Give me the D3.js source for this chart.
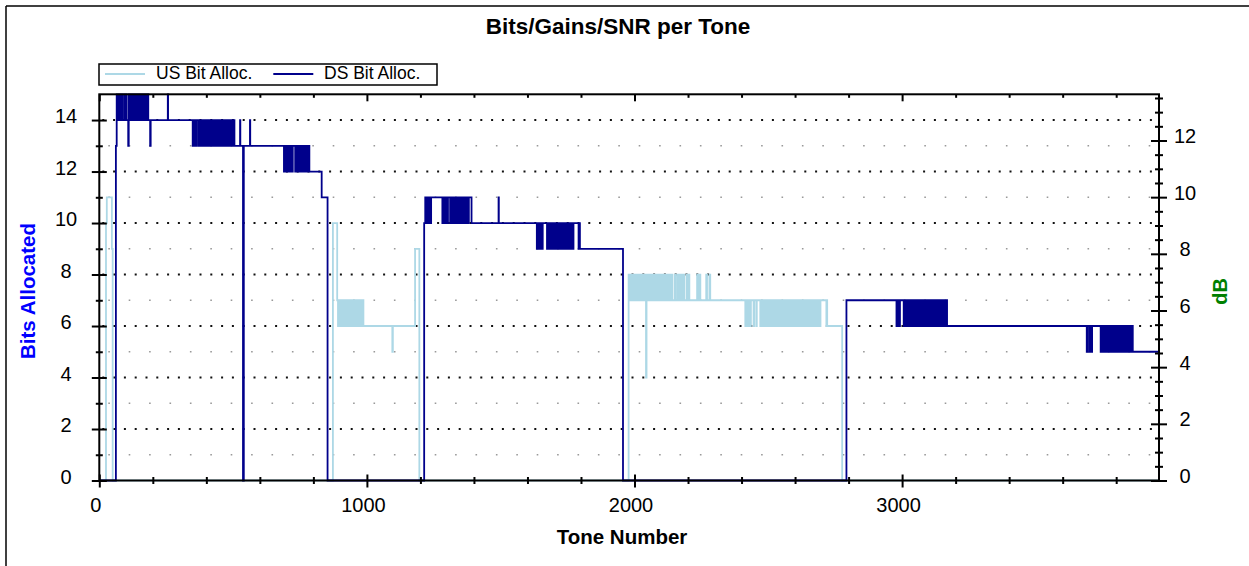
<!DOCTYPE html>
<html><head><meta charset="utf-8">
<script src="https://cdn.jsdelivr.net/npm/d3@7"></script>
<style>body{margin:0;background:#fff}svg{display:block}text{font-family:"Liberation Sans",Arial,sans-serif}</style>
</head><body><svg id="c" width="1249" height="566"></svg>
<script>
const chartTitle = "Bits/Gains/SNR per Tone";
const xLabel = "Tone Number";
const yLeftLabel = "Bits Allocated";
const yRightLabel = "dB";
const seriesNames = ["US Bit Alloc.", "DS Bit Alloc."];
const xMajorTicks = [0, 1000, 2000, 3000];
const yLeftTicks = [0, 2, 4, 6, 8, 10, 12, 14];
const yRightTicks = [0, 2, 4, 6, 8, 10, 12];
const xDomain = [0, 3960];
const yLeftDomain = [0, 15];
const yRightDomain = [0, 13.63];
const lastTone = 3958;

// runs: [start tone, bits] (value holds until next start)
const usRuns = [[0,0],[25,10],[28,11],[47,9],[50,0],
[873,10],[889,7],[892,6],[895,7],[898,6],[901,7],[904,6],[907,7],[910,6],[913,7],[916,6],[919,7],[922,6],[925,7],[928,6],[931,7],[934,6],[937,7],[940,6],[943,7],[946,6],[949,7],[952,6],[955,7],[958,6],[961,7],[964,6],[967,7],[970,6],[973,7],[976,6],[979,7],[982,6],[985,7],[987,6],
[1095,5],[1097,6],[1180,9],[1196,0],
[1978,8],[1983,7],[1986,8],[1989,7],[1992,8],[1995,7],[1998,8],[2001,7],[2004,8],[2007,7],[2010,8],[2013,7],[2016,8],[2019,7],[2022,8],[2025,7],[2028,8],[2031,7],[2034,8],[2037,7],[2040,8],[2043,4],[2045,7],[2048,8],[2051,7],[2054,8],[2057,7],[2060,8],[2063,7],[2066,8],[2069,7],[2072,8],[2075,7],[2078,8],[2081,7],[2084,8],[2087,7],[2090,8],[2093,7],[2096,8],[2099,7],[2102,8],[2105,7],[2108,8],[2111,7],[2114,8],[2117,7],[2120,8],[2123,7],[2126,8],[2129,7],[2132,8],[2135,7],[2138,8],[2141,7],[2150,8],[2153,7],[2160,8],[2162,7],[2168,8],[2171,7],[2175,8],[2178,7],[2183,8],[2186,7],[2195,8],[2197,7],[2203,8],[2205,7],[2234,8],[2237,7],[2243,8],[2246,7],[2268,8],[2271,7],[2280,8],[2283,7],
[2414,6],[2417,7],[2420,6],[2423,7],[2426,6],[2429,7],[2432,6],[2435,7],[2445,6],[2447,7],[2455,6],[2457,7],[2470,6],[2473,7],[2476,6],[2479,7],[2482,6],[2485,7],[2488,6],[2491,7],[2494,6],[2497,7],[2500,6],[2503,7],[2506,6],[2509,7],[2512,6],[2515,7],[2518,6],[2521,7],[2524,6],[2527,7],[2530,6],[2533,7],[2536,6],[2539,7],[2542,6],[2545,7],[2548,6],[2551,7],[2554,6],[2557,7],[2560,6],[2563,7],[2566,6],[2569,7],[2572,6],[2575,7],[2578,6],[2581,7],[2584,6],[2587,7],[2590,6],[2593,7],[2596,6],[2599,7],[2602,6],[2605,7],[2608,6],[2611,7],[2614,6],[2617,7],[2620,6],[2623,7],[2626,6],[2629,7],[2632,6],[2635,7],[2638,6],[2641,7],[2644,6],[2647,7],[2650,6],[2653,7],[2656,6],[2659,7],[2662,6],[2665,7],[2668,6],[2671,7],[2674,6],[2677,7],[2680,6],[2683,7],[2686,6],[2689,7],[2692,6],[2695,7],[2717,6],[2719,7],[2720,6],[2776,0]];

const dsRuns = [[0,0],[62,13],[65,15],[68,14],[71,15],[74,14],[77,15],[80,14],[83,15],[86,14],[93,15],[96,14],[99,15],[102,14],[108,13],[110,15],[113,14],[116,15],[120,14],[124,15],[127,14],[130,15],[134,14],[137,15],[141,14],[146,15],[149,14],[152,15],[156,14],[160,15],[163,14],[166,15],[170,14],[173,15],[177,14],[180,15],[183,14],[190,13],[192,14],[256,15],[257,14],
[349,13],[352,14],[355,13],[358,14],[361,13],[364,14],[371,13],[372,14],[378,13],[381,14],[384,13],[387,14],[390,13],[393,14],[396,13],[399,14],[402,13],[405,14],[408,13],[411,14],[414,13],[417,14],[420,13],[423,14],[427,13],[430,14],[433,13],[436,14],[439,13],[442,14],[445,13],[448,14],[452,13],[455,14],[458,13],[461,14],[464,13],[467,14],[470,13],[474,14],[477,13],[480,14],[483,13],[486,14],[489,13],[492,14],[495,13],[498,14],[501,13],[504,14],[505,13],[526,14],[527,13],[537,0],[540,13],[563,14],[564,13],
[690,12],[693,13],[696,12],[699,13],[702,12],[705,13],[708,12],[711,13],[714,12],[717,13],[720,12],[723,13],[732,12],[735,13],[738,12],[741,13],[744,12],[747,13],[750,12],[753,13],[756,12],[759,13],[762,12],[765,13],[768,12],[771,13],[774,12],[777,13],[780,12],[783,13],[785,12],[831,11],[853,0],
[1214,10],[1218,11],[1220,10],[1223,11],[1226,10],[1229,11],[1232,10],[1235,11],[1238,10],[1240,11],[1282,10],[1285,11],[1288,10],[1291,11],[1294,10],[1297,11],[1300,10],[1303,11],[1311,10],[1314,11],[1317,10],[1320,11],[1323,10],[1326,11],[1329,10],[1332,11],[1335,10],[1338,11],[1341,10],[1344,11],[1347,10],[1350,11],[1353,10],[1356,11],[1359,10],[1362,11],[1365,10],[1368,11],[1371,10],[1374,11],[1380,10],[1381,11],[1391,10],[1492,11],[1493,10],
[1635,9],[1638,10],[1641,9],[1644,10],[1647,9],[1650,10],[1653,9],[1657,10],[1673,9],[1676,10],[1679,9],[1682,10],[1685,9],[1688,10],[1691,9],[1694,10],[1697,9],[1700,10],[1703,9],[1706,10],[1709,9],[1712,10],[1715,9],[1718,10],[1721,9],[1724,10],[1727,9],[1730,10],[1733,9],[1736,10],[1739,9],[1742,10],[1745,9],[1748,10],[1751,9],[1754,10],[1757,9],[1760,10],[1763,9],[1766,10],[1769,9],[1772,10],[1791,9],[1793,10],[1796,9],[1957,0],
[2792,7],[2979,6],[2982,7],[2985,6],[2988,7],[2991,6],[2992,7],[3006,6],[3009,7],[3012,6],[3015,7],[3018,6],[3021,7],[3024,6],[3027,7],[3030,6],[3033,7],[3036,6],[3039,7],[3042,6],[3045,7],[3048,6],[3051,7],[3054,6],[3057,7],[3060,6],[3063,7],[3066,6],[3069,7],[3072,6],[3075,7],[3078,6],[3081,7],[3084,6],[3087,7],[3090,6],[3093,7],[3096,6],[3099,7],[3102,6],[3105,7],[3108,6],[3111,7],[3114,6],[3117,7],[3120,6],[3123,7],[3126,6],[3129,7],[3132,6],[3135,7],[3138,6],[3141,7],[3144,6],[3147,7],[3150,6],[3153,7],[3156,6],[3159,7],[3162,6],[3165,7],[3168,6],
[3690,5],[3693,6],[3700,5],[3703,6],[3706,5],[3710,6],[3742,5],[3745,6],[3748,5],[3751,6],[3754,5],[3757,6],[3760,5],[3763,6],[3766,5],[3769,6],[3772,5],[3775,6],[3778,5],[3781,6],[3784,5],[3787,6],[3790,5],[3793,6],[3796,5],[3799,6],[3802,5],[3805,6],[3808,5],[3811,6],[3814,5],[3817,6],[3820,5],[3823,6],[3826,5],[3829,6],[3832,5],[3835,6],[3838,5],[3841,6],[3844,5],[3847,6],[3850,5],[3853,6],[3856,5],[3859,6],[3862,5]];

const colors = {us: "#add8e6", ds: "#00008b"};

const svg = d3.select("#c");
const L = 99.3, R = 1159, T = 94.3, B = 480.5;
const x = d3.scaleLinear().domain(xDomain).range([L, R]);
const y = d3.scaleLinear().domain(yLeftDomain).range([B, T]);
const y2 = d3.scaleLinear().domain(yRightDomain).range([B, T]);

// outer page frame
svg.append("line").attr("x1",6).attr("y1",6).attr("x2",1249).attr("y2",6).attr("stroke","#000").attr("stroke-width",1.5);
svg.append("line").attr("x1",6).attr("y1",6).attr("x2",6).attr("y2",566).attr("stroke","#000").attr("stroke-width",1.5);

svg.append("text").attr("x",618).attr("y",34.3).attr("text-anchor","middle")
  .attr("font-size",22.5).attr("font-weight","bold").text(chartTitle);

// grid
const gridVals = d3.range(1, 15);
svg.append("g").selectAll("line").data(gridVals).join("line")
  .attr("x1", L+1).attr("x2", R-1).attr("y1", d=>y(d)).attr("y2", d=>y(d))
  .attr("stroke", d => d%2===0 ? "#111" : "#999")
  .attr("stroke-width", d => d%2===0 ? 2 : 1.6)
  .attr("stroke-dasharray", d => d%2===0 ? "2,8.8" : "1.6,18.8")
  .attr("stroke-dashoffset", d => d%2===0 ? -2 : -8);

function toPts(runs){ const p = runs.map(r=>[r[0], r[1]]); p.push([lastTone, runs[runs.length-1][1]]); return p; }
const line = d3.line().x(d=>x(d[0])).y(d=>y(d[1])).curve(d3.curveStepAfter);
svg.append("path").attr("d", line(toPts(usRuns))).attr("fill","none").attr("stroke",colors.us).attr("stroke-width",1.8);
svg.append("path").attr("d", line(toPts(dsRuns))).attr("fill","none").attr("stroke",colors.ds).attr("stroke-width",1.8);

// frame
svg.append("rect").attr("x",L).attr("y",T).attr("width",R-L).attr("height",B-T).attr("fill","none").attr("stroke","#000").attr("stroke-width",2);

function styleAxis(g){ g.select(".domain").remove(); g.selectAll(".tick line").attr("stroke","#000").attr("stroke-width",2); g.selectAll("text").attr("font-size",20).attr("fill","#000").attr("font-family","'Liberation Sans',Arial,sans-serif"); }
const xMinor = d3.range(0, 3960, 200).filter(v=>v%1000!==0);
// bottom
svg.append("g").attr("transform",`translate(0,${B})`).call(d3.axisBottom(x).tickValues(xMajorTicks).tickSize(7).tickFormat(d3.format("d"))).call(styleAxis)
  .call(g=>g.selectAll("text").attr("y",31.2).attr("dy",null).attr("x",-4));
svg.append("g").attr("transform",`translate(0,${B})`).call(d3.axisTop(x).tickValues(xMajorTicks).tickSize(6).tickFormat("")).call(styleAxis);
svg.append("g").attr("transform",`translate(0,${B})`).call(d3.axisBottom(x).tickValues(xMinor).tickSize(3.5).tickFormat("")).call(styleAxis);
svg.append("g").attr("transform",`translate(0,${B})`).call(d3.axisTop(x).tickValues(xMinor).tickSize(3.5).tickFormat("")).call(styleAxis);
// top
svg.append("g").attr("transform",`translate(0,${T})`).call(d3.axisBottom(x).tickValues(xMajorTicks).tickSize(7).tickFormat("")).call(styleAxis);
svg.append("g").attr("transform",`translate(0,${T})`).call(d3.axisBottom(x).tickValues(xMinor).tickSize(3.5).tickFormat("")).call(styleAxis);
// left
const yMinor = d3.range(1, 15, 2);
svg.append("g").attr("transform",`translate(${L},0)`).call(d3.axisLeft(y).tickValues(yLeftTicks).tickSize(7.5)).call(styleAxis)
  .call(g=>g.selectAll("text").attr("x",66-L).attr("text-anchor","middle").attr("dy",null).attr("y",2.5));
svg.append("g").attr("transform",`translate(${L},0)`).call(d3.axisRight(y).tickValues(yLeftTicks).tickSize(7.5).tickFormat("")).call(styleAxis);
svg.append("g").attr("transform",`translate(${L},0)`).call(d3.axisLeft(y).tickValues(yMinor).tickSize(3.5).tickFormat("")).call(styleAxis);
svg.append("g").attr("transform",`translate(${L},0)`).call(d3.axisRight(y).tickValues(yMinor).tickSize(3.5).tickFormat("")).call(styleAxis);
// right
const y2Minor = d3.range(0.5, 13.6, 0.5).filter(v=>v%2!==0);
svg.append("g").attr("transform",`translate(${R},0)`).call(d3.axisRight(y2).tickValues(yRightTicks).tickSize(8)).call(styleAxis)
  .call(g=>g.selectAll("text").attr("x",26).attr("text-anchor","middle").attr("dy",null).attr("y",2));
svg.append("g").attr("transform",`translate(${R},0)`).call(d3.axisLeft(y2).tickValues(yRightTicks).tickSize(8).tickFormat("")).call(styleAxis);
svg.append("g").attr("transform",`translate(${R},0)`).call(d3.axisRight(y2).tickValues(y2Minor).tickSize(4).tickFormat("")).call(styleAxis);
svg.append("g").attr("transform",`translate(${R},0)`).call(d3.axisLeft(y2).tickValues(y2Minor).tickSize(4).tickFormat("")).call(styleAxis);

// axis titles
svg.append("text").attr("transform","translate(622,544)").attr("text-anchor","middle").attr("font-size",20.5).attr("font-weight","bold").attr("fill","#000").text(xLabel);
svg.append("text").attr("transform","translate(35,291) rotate(-90)").attr("text-anchor","middle").attr("font-size",20.5).attr("font-weight","bold").attr("fill","#0000ff").text(yLeftLabel);
svg.append("text").attr("transform","translate(1227,291.5) rotate(-90)").attr("text-anchor","middle").attr("font-size",20).attr("font-weight","bold").attr("fill","#008000").text(yRightLabel);

// legend
const lg = svg.append("g");
lg.append("rect").attr("x",99).attr("y",64).attr("width",338).attr("height",21).attr("fill","#fff").attr("stroke","#000").attr("stroke-width",1.5);
const legendItems = [{name: seriesNames[0], color: colors.us, lx: 105, tx: 156}, {name: seriesNames[1], color: colors.ds, lx: 273.3, tx: 324}];
legendItems.forEach(it=>{
  lg.append("line").attr("x1",it.lx).attr("x2",it.lx+40).attr("y1",74).attr("y2",74).attr("stroke",it.color).attr("stroke-width",1.8);
  lg.append("text").attr("x",it.tx).attr("y",79.3).attr("font-size",17.5).attr("fill","#000").text(it.name);
});
</script></body></html>
